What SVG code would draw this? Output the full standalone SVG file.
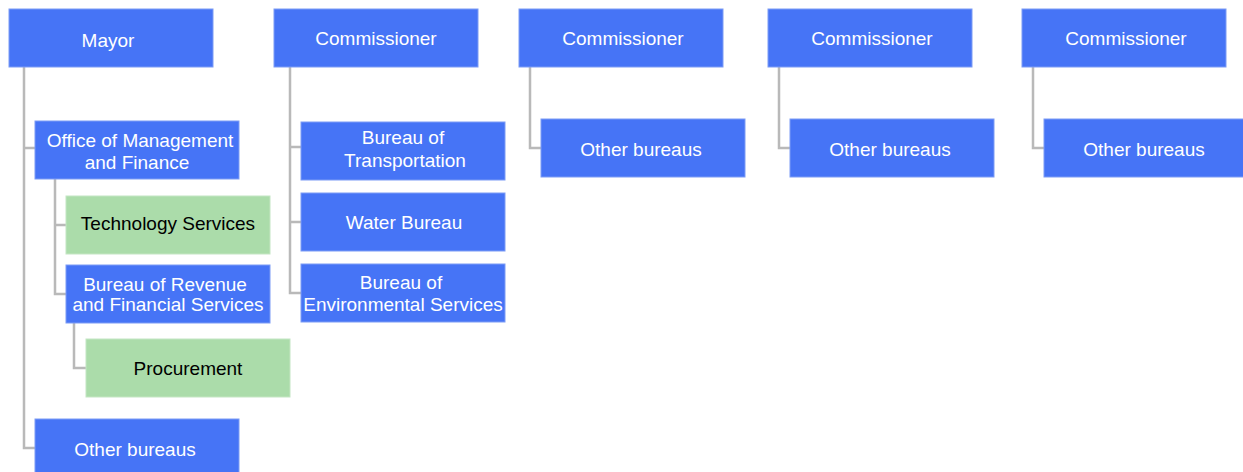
<svg xmlns="http://www.w3.org/2000/svg" width="1243" height="472" viewBox="0 0 1243 472">
  <style>
    .blue { fill: #4674f6; stroke: #7d9cf5; stroke-width: 1; }
    .green { fill: #abdcaa; stroke: #c4e6c3; stroke-width: 1; }
    .lbl { font-family: "Liberation Sans", Arial, sans-serif; font-size: 19px; text-anchor: middle; }
    .w { fill: #ffffff; }
    .k { fill: #000000; }
    .conn { fill: none; stroke: #b9b9b9; stroke-width: 2.5; }
  </style>
  <rect width="1243" height="472" fill="#ffffff"/>

  <!-- reporting lines -->
  <g id="connectors">
    <path class="conn" d="M24 67 V448 H35 M24 148 H35"/>
    <path class="conn" d="M55 179 V294 H66 M55 225 H66"/>
    <path class="conn" d="M74 323 V368 H86"/>
    <path class="conn" d="M290 67 V293 H301 M290 147 H301 M290 222 H301"/>
    <path class="conn" d="M530 67 V148 H541"/>
    <path class="conn" d="M779 67 V148 H790"/>
    <path class="conn" d="M1033 67 V148 H1044"/>
  </g>

  <!-- Mayor branch -->
  <g id="mayor">
    <rect class="blue" x="9" y="9" width="204" height="58"/>
    <text class="lbl w" x="108" y="47">Mayor</text>
  </g>
  <g id="omf">
    <rect class="blue" x="35" y="121" width="204" height="58"/>
    <text class="lbl w" x="140" y="147">Office of Management</text>
    <text class="lbl w" x="137" y="169">and Finance</text>
  </g>
  <g id="tech-services">
    <rect class="green" x="66" y="196" width="204" height="58"/>
    <text class="lbl k" x="168" y="230">Technology Services</text>
  </g>
  <g id="revenue">
    <rect class="blue" x="66" y="265" width="204" height="58"/>
    <text class="lbl w" x="165" y="291">Bureau of Revenue</text>
    <text class="lbl w" x="168" y="311">and Financial Services</text>
  </g>
  <g id="procurement">
    <rect class="green" x="86" y="339" width="204" height="58"/>
    <text class="lbl k" x="188" y="375">Procurement</text>
  </g>
  <g id="mayor-other">
    <rect class="blue" x="35" y="419" width="204" height="58"/>
    <text class="lbl w" x="135" y="456">Other bureaus</text>
  </g>

  <!-- Commissioner 1 branch -->
  <g id="commissioner-1">
    <rect class="blue" x="274" y="9" width="204" height="58"/>
    <text class="lbl w" x="376" y="45">Commissioner</text>
  </g>
  <g id="transportation">
    <rect class="blue" x="301" y="122" width="204" height="58"/>
    <text class="lbl w" x="403" y="144">Bureau of</text>
    <text class="lbl w" x="405" y="167">Transportation</text>
  </g>
  <g id="water">
    <rect class="blue" x="301" y="193" width="204" height="58"/>
    <text class="lbl w" x="404" y="229">Water Bureau</text>
  </g>
  <g id="environmental">
    <rect class="blue" x="301" y="264" width="204" height="58"/>
    <text class="lbl w" x="401" y="289">Bureau of</text>
    <text class="lbl w" x="403" y="311">Environmental Services</text>
  </g>

  <!-- Commissioner 2 branch -->
  <g id="commissioner-2">
    <rect class="blue" x="519" y="9" width="204" height="58"/>
    <text class="lbl w" x="623" y="45">Commissioner</text>
  </g>
  <g id="c2-other">
    <rect class="blue" x="541" y="119" width="204" height="58"/>
    <text class="lbl w" x="641" y="156">Other bureaus</text>
  </g>

  <!-- Commissioner 3 branch -->
  <g id="commissioner-3">
    <rect class="blue" x="768" y="9" width="204" height="58"/>
    <text class="lbl w" x="872" y="45">Commissioner</text>
  </g>
  <g id="c3-other">
    <rect class="blue" x="790" y="119" width="204" height="58"/>
    <text class="lbl w" x="890" y="156">Other bureaus</text>
  </g>

  <!-- Commissioner 4 branch -->
  <g id="commissioner-4">
    <rect class="blue" x="1022" y="9" width="204" height="58"/>
    <text class="lbl w" x="1126" y="45">Commissioner</text>
  </g>
  <g id="c4-other">
    <rect class="blue" x="1044" y="119" width="204" height="58"/>
    <text class="lbl w" x="1144" y="156">Other bureaus</text>
  </g>
</svg>
